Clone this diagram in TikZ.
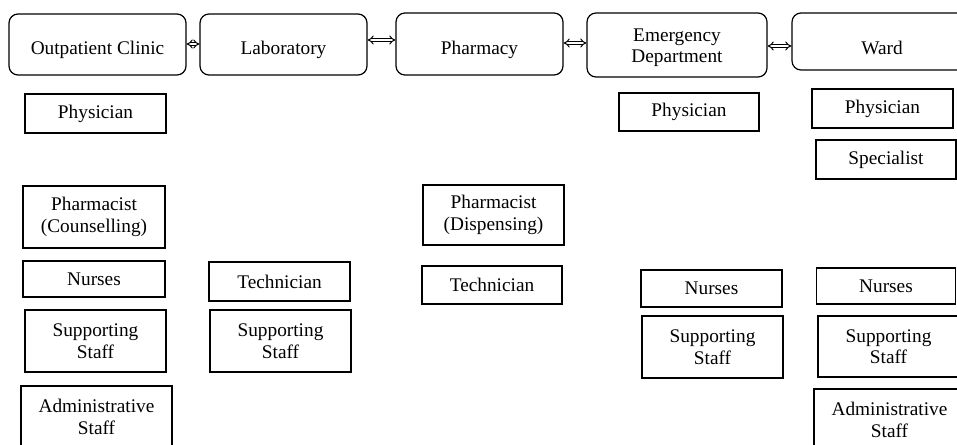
\documentclass[tikz,border=0pt]{standalone}
\usepackage{fontspec}
\setmainfont{Liberation Serif}
\usetikzlibrary{arrows.meta}
\begin{document}
\begin{tikzpicture}[x=1pt,y=-1pt,
  font=\fontsize{19.3}{21.5}\selectfont,
  unit/.style={draw,line width=1.2pt,rounded corners=9pt,align=center,inner sep=0pt,text height=20pt,text depth=0pt},
  staff/.style={draw,line width=1.2pt,align=center,inner sep=0pt},
  link/.style={double,double distance=2pt,line width=1pt,{Implies}-{Implies}}]
 \clip (0,0) rectangle (957,444);
 % departments
 \node[unit,minimum width=177,minimum height=61](opc) at (97.5,44.5){Outpatient Clinic};
 \node[unit,minimum width=167,minimum height=61](lab) at (283.5,44.5){Laboratory};
 \node[unit,minimum width=167,minimum height=62](pharm) at (479.5,44){Pharmacy};
 \node[unit,minimum width=180,minimum height=64,text height=36pt](ed) at (677,45){Emergency\\Department};
 \node[unit,minimum width=180,minimum height=57,text height=26pt](ward) at (882,41.5){Ward};
 \draw[link]([yshift=0.5]opc.east)--([yshift=0.5]opc.east-|lab.west);
 \draw[link]([yshift=4.5]lab.east)--([yshift=4.5]lab.east-|pharm.west);
 \draw[link]([yshift=1]pharm.east)--([yshift=1]pharm.east-|ed.west);
 \draw[link]([yshift=-1]ed.east)--([yshift=-1]ed.east-|ward.west);
 % outpatient clinic
 \node[staff,minimum width=141,minimum height=39](phyopc) at (95.5,113.5){Physician};
 \node[staff,minimum width=142,minimum height=62](phcou) at (94,217){Pharmacist\\(Counselling)};
 \node[staff,minimum width=142,minimum height=36](nuropc) at (94,279){Nurses};
 \node[staff,minimum width=141,minimum height=62](supopc) at (95.5,341){Supporting\\Staff};
 \node[staff,minimum width=151,minimum height=62](admopc) at (96.5,417){Administrative\\Staff};
 % laboratory
 \node[staff,minimum width=141,minimum height=39](teclab) at (279.5,281.5){Technician};
 \node[staff,minimum width=141,minimum height=62](suplab) at (280.5,341){Supporting\\Staff};
 % pharmacy
 \node[staff,minimum width=141,minimum height=60](phdis) at (493.5,215){Pharmacist\\(Dispensing)};
 \node[staff,minimum width=140,minimum height=38](tecph) at (492,285){Technician};
 % emergency department
 \node[staff,minimum width=140,minimum height=38](phyed) at (689,112){Physician};
 \node[staff,minimum width=141,minimum height=37](nured) at (711.5,288.5){Nurses};
 \node[staff,minimum width=141,minimum height=62](suped) at (712.5,347){Supporting\\Staff};
 % ward
 \node[staff,minimum width=141,minimum height=39](phyw) at (882.5,108.5){Physician};
 \node[staff,minimum width=140,minimum height=39](specw) at (886,159.5){Specialist};
 \node[staff,minimum width=139,minimum height=36](nurw) at (886,286){Nurses};
 \node[staff,minimum width=141,minimum height=61](supw) at (888.5,346.5){Supporting\\Staff};
 \node[staff,minimum width=151,minimum height=62](admw) at (889.5,420){Administrative\\Staff};
\end{tikzpicture}
\end{document}
